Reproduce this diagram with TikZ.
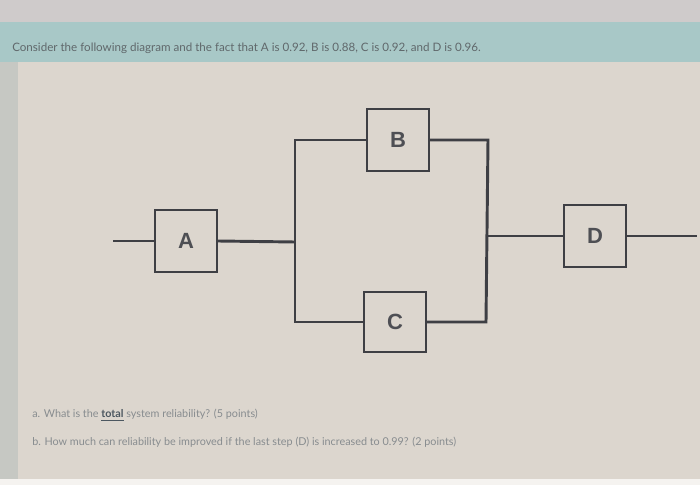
\documentclass[tikz,border=0pt]{standalone}
\usepackage{fontspec}
\setmainfont{Lato}
\newfontfamily\boxfont{Liberation Sans}
\usepackage{graphicx}
\definecolor{topgray}{HTML}{CFCBCB}
\definecolor{teal}{HTML}{A8C8C7}
\definecolor{paper}{HTML}{DCD6CE}
\definecolor{margin}{HTML}{C6C8C3}
\definecolor{ink}{HTML}{3E3F44}
\definecolor{letter}{HTML}{4E4F54}
\definecolor{titletext}{HTML}{60686B}
\definecolor{qtext}{HTML}{878C8F}
\definecolor{qbold}{HTML}{4C5760}
\tikzset{
  wire/.style={draw=ink, line width=2.2pt, line join=miter},
  block/.style={draw=ink, line width=1.3pt, fill=paper, minimum width=47pt, minimum height=47pt, inner sep=0pt, text=letter, font=\boxfont\bfseries\fontsize{16.5}{16.5}\selectfont},
  title/.style={anchor=west, inner sep=0pt, text=titletext, font=\fontsize{8.7}{10}\selectfont},
  question/.style={anchor=west, inner sep=0pt, text=qtext, font=\fontsize{8.1}{9}\selectfont}
}
\begin{document}
\begin{tikzpicture}[x=0.75pt, y=-0.75pt]
\useasboundingbox (0,0) rectangle (700,485);
% backgrounds
\fill[topgray] (0,0) rectangle (700,22);
\fill[teal] (0,22) rectangle (700,62);
\fill[margin] (0,62) rectangle (18,485);
\fill[paper] (18,62) rectangle (700,485);
\fill[white!70!paper] (0,479) rectangle (700,485);
% texts
\node[title] (t) at (12,48) {Consider the following diagram and the fact that A is 0.92, B is 0.88, C is 0.92, and D is 0.96.};
\node[question] (qa) at (32,415) {a. What is the \textbf{\textcolor{qbold}{\underline{total}}} system reliability? (5 points)};
\node[question] (qb) at (32,442) {b. How much can reliability be improved if the last step (D) is increased to 0.99? (2 points)};
% blocks
\node[block] (A) at (186,241) {A};
\node[block] (B) at (398,140) {B};
\node[block, minimum height=45pt] (C) at (395,322) {C};
\node[block] (D) at (595,236) {D};
% junction coordinates
\coordinate (in) at (113,241);
\coordinate (lt) at (295,140);
\coordinate (lm) at (295,242);
\coordinate (lb) at (295,322);
\coordinate (rt) at (488,140);
\coordinate (rm) at (487,236);
\coordinate (rb) at (486,322);
\coordinate (out) at (697,236);
% connectors
\draw[wire] (in) -- (A.west);
\draw[wire] (A.east) -- (lm);
\draw[wire] (B.west) -- (lt) -- (lb) -- (C.west);
\draw[wire] (B.east) -- (rt) -- (rb) -- (C.east);
\draw[wire] (rm) -- (D.west);
\draw[wire] (D.east) -- (out);
\end{tikzpicture}
\end{document}
